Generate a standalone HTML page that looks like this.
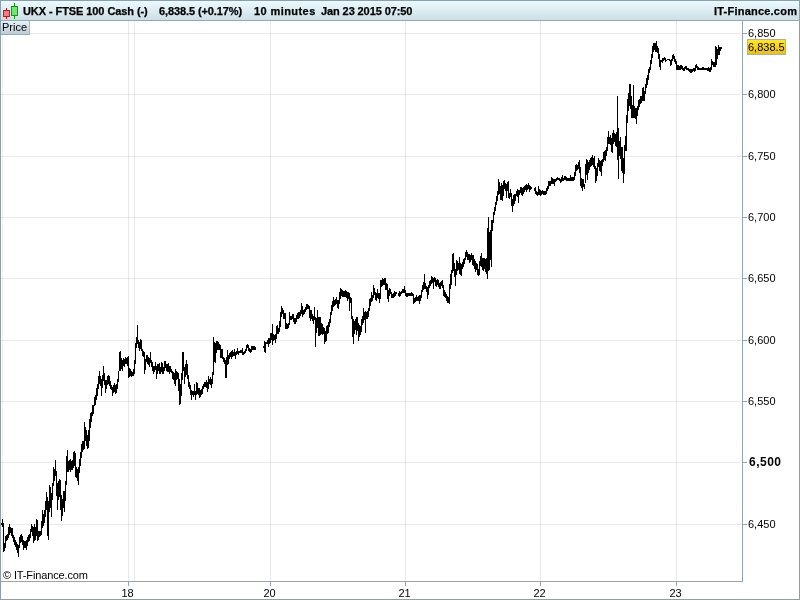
<!DOCTYPE html>
<html><head><meta charset="utf-8"><title>UKX - FTSE 100 Cash</title>
<style>
html,body{margin:0;padding:0;background:#fff;}
body{width:800px;height:600px;overflow:hidden;position:relative;font-family:"Liberation Sans",Arial,sans-serif;}
#frame{position:absolute;left:0;top:0;width:798px;height:598px;border:1px solid #8d9fa8;}
#hdr{position:absolute;left:1px;top:1px;width:798px;height:19px;background:linear-gradient(#ecfbff,#cddee6);border-bottom:1px solid #97a8b0;}
.ht{position:absolute;top:4px;font-weight:bold;-webkit-text-stroke:0.25px #000;font-size:11px;line-height:13px;color:#000;white-space:pre;}
#price{position:absolute;left:1px;top:21px;width:28px;height:13px;background:linear-gradient(#e3f3f8,#bccbd3);border-right:1px solid #a9b7be;border-bottom:1px solid #9aaab2;}
#price span{position:absolute;left:1px;top:0px;font-size:11px;line-height:13px;}
svg{position:absolute;left:0;top:0;}
text{font-family:"Liberation Sans",Arial,sans-serif;font-size:11px;fill:#000;}
text.yb{font-weight:bold;font-size:12px;}
text.x{text-anchor:middle;}
</style></head><body>
<svg width="800" height="600" viewBox="0 0 800 600" shape-rendering="crispEdges">
<rect x="1" y="33" width="741" height="1" fill="#000" fill-opacity="0.085"/>
<rect x="1" y="94" width="741" height="1" fill="#000" fill-opacity="0.085"/>
<rect x="1" y="156" width="741" height="1" fill="#000" fill-opacity="0.085"/>
<rect x="1" y="217" width="741" height="1" fill="#000" fill-opacity="0.085"/>
<rect x="1" y="278" width="741" height="1" fill="#000" fill-opacity="0.085"/>
<rect x="1" y="340" width="741" height="1" fill="#000" fill-opacity="0.085"/>
<rect x="1" y="401" width="741" height="1" fill="#000" fill-opacity="0.085"/>
<rect x="1" y="462" width="741" height="1" fill="#000" fill-opacity="0.085"/>
<rect x="1" y="524" width="741" height="1" fill="#000" fill-opacity="0.085"/>
<rect x="2" y="21" width="1" height="560" fill="#000" fill-opacity="0.06"/>
<rect x="128" y="21" width="1" height="560" fill="#000" fill-opacity="0.085"/>
<rect x="134" y="21" width="1" height="560" fill="#000" fill-opacity="0.085"/>
<rect x="270" y="21" width="1" height="560" fill="#000" fill-opacity="0.085"/>
<rect x="405" y="21" width="1" height="560" fill="#000" fill-opacity="0.085"/>
<rect x="540" y="21" width="1" height="560" fill="#000" fill-opacity="0.085"/>
<rect x="676" y="21" width="1" height="560" fill="#000" fill-opacity="0.085"/>
<path d="M1 523h1v2h-1zM2 519h1v8h-1zM3 523h1v29h-1zM4 543h1v8h-1zM5 536h1v12h-1zM6 535h1v6h-1zM7 534h1v6h-1zM8 527h1v11h-1zM9 524h1v11h-1zM10 527h1v6h-1zM11 528h1v8h-1zM12 528h1v10h-1zM13 535h1v7h-1zM14 537h1v8h-1zM15 540h1v7h-1zM16 542h1v8h-1zM17 544h1v9h-1zM18 545h1v12h-1zM19 537h1v11h-1zM20 535h1v8h-1zM21 534h1v8h-1zM22 536h1v9h-1zM23 540h1v10h-1zM24 541h1v7h-1zM25 541h1v7h-1zM26 540h1v10h-1zM27 537h1v9h-1zM28 535h1v7h-1zM29 534h1v7h-1zM30 529h1v9h-1zM31 524h1v8h-1zM32 526h1v10h-1zM33 527h1v16h-1zM34 524h1v17h-1zM35 527h1v13h-1zM36 519h1v17h-1zM37 520h1v21h-1zM38 531h1v9h-1zM39 531h1v6h-1zM40 531h1v5h-1zM41 521h1v14h-1zM42 510h1v18h-1zM43 514h1v12h-1zM44 510h1v13h-1zM45 501h1v16h-1zM46 492h1v18h-1zM47 497h1v39h-1zM48 501h1v39h-1zM49 485h1v27h-1zM50 487h1v21h-1zM51 493h1v24h-1zM52 483h1v17h-1zM53 467h1v19h-1zM54 469h1v12h-1zM55 460h1v16h-1zM56 471h1v25h-1zM57 483h1v27h-1zM58 481h1v19h-1zM59 479h1v18h-1zM60 480h1v30h-1zM61 495h1v26h-1zM62 499h1v17h-1zM63 491h1v17h-1zM64 491h1v21h-1zM65 481h1v20h-1zM66 456h1v29h-1zM67 450h1v22h-1zM68 461h1v11h-1zM69 460h1v10h-1zM70 459h1v13h-1zM71 461h1v9h-1zM72 460h1v10h-1zM73 452h1v16h-1zM74 451h1v15h-1zM75 453h1v24h-1zM76 467h1v11h-1zM77 469h1v12h-1zM78 467h1v18h-1zM79 459h1v14h-1zM80 452h1v14h-1zM81 444h1v14h-1zM82 441h1v11h-1zM83 441h1v9h-1zM84 422h1v27h-1zM85 427h1v14h-1zM86 430h1v16h-1zM87 435h1v14h-1zM88 430h1v18h-1zM89 419h1v22h-1zM90 413h1v15h-1zM91 412h1v10h-1zM92 405h1v11h-1zM93 405h1v9h-1zM94 397h1v9h-1zM95 395h1v10h-1zM96 388h1v12h-1zM97 384h1v12h-1zM98 376h1v13h-1zM99 371h1v13h-1zM100 376h1v10h-1zM101 379h1v17h-1zM102 375h1v13h-1zM103 366h1v15h-1zM104 373h1v12h-1zM105 380h1v13h-1zM106 380h1v9h-1zM107 376h1v9h-1zM108 375h1v9h-1zM109 376h1v10h-1zM110 381h1v8h-1zM111 385h1v5h-1zM112 387h1v9h-1zM113 385h1v8h-1zM114 383h1v9h-1zM115 385h1v9h-1zM116 384h1v9h-1zM117 379h1v10h-1zM118 371h1v11h-1zM119 352h1v19h-1zM120 351h1v20h-1zM121 358h1v11h-1zM122 360h1v11h-1zM123 358h1v8h-1zM124 359h1v8h-1zM125 357h1v7h-1zM126 358h1v6h-1zM127 357h1v9h-1zM128 356h1v22h-1zM129 368h1v9h-1zM130 369h1v7h-1zM131 371h1v6h-1zM132 372h1v4h-1zM133 369h1v7h-1zM134 360h1v14h-1zM135 343h1v21h-1zM136 337h1v11h-1zM137 325h1v19h-1zM138 340h1v8h-1zM139 342h1v9h-1zM140 339h1v10h-1zM141 340h1v11h-1zM142 349h1v7h-1zM143 351h1v6h-1zM144 352h1v22h-1zM145 359h1v11h-1zM146 355h1v7h-1zM147 355h1v9h-1zM148 357h1v8h-1zM149 358h1v9h-1zM150 352h1v11h-1zM151 360h1v7h-1zM152 362h1v9h-1zM153 366h1v8h-1zM154 366h1v6h-1zM155 362h1v8h-1zM156 366h1v13h-1zM157 364h1v10h-1zM158 364h1v7h-1zM159 363h1v11h-1zM160 367h1v7h-1zM161 362h1v10h-1zM162 363h1v11h-1zM163 367h1v7h-1zM164 361h1v10h-1zM165 361h1v7h-1zM166 364h1v7h-1zM167 364h1v8h-1zM168 363h1v9h-1zM169 366h1v8h-1zM170 366h1v6h-1zM171 369h1v4h-1zM172 371h1v8h-1zM173 372h1v8h-1zM174 373h1v11h-1zM175 369h1v17h-1zM176 371h1v9h-1zM177 372h1v7h-1zM178 373h1v18h-1zM179 379h1v26h-1zM180 384h1v20h-1zM181 373h1v23h-1zM182 352h1v28h-1zM183 352h1v19h-1zM184 367h1v17h-1zM185 364h1v13h-1zM186 360h1v15h-1zM187 364h1v15h-1zM188 375h1v12h-1zM189 382h1v7h-1zM190 385h1v10h-1zM191 390h1v10h-1zM192 391h1v4h-1zM193 391h1v6h-1zM194 384h1v11h-1zM195 391h1v9h-1zM196 382h1v13h-1zM197 383h1v11h-1zM198 388h1v7h-1zM199 388h1v10h-1zM200 390h1v7h-1zM201 389h1v6h-1zM202 386h1v8h-1zM203 384h1v5h-1zM204 382h1v5h-1zM205 382h1v5h-1zM206 380h1v8h-1zM207 382h1v10h-1zM208 376h1v13h-1zM209 379h1v5h-1zM210 377h1v8h-1zM211 379h1v9h-1zM212 372h1v12h-1zM213 337h1v38h-1zM214 342h1v20h-1zM215 343h1v20h-1zM216 341h1v12h-1zM217 341h1v9h-1zM218 342h1v8h-1zM219 344h1v6h-1zM220 345h1v13h-1zM221 349h1v9h-1zM222 349h1v10h-1zM223 357h1v5h-1zM224 358h1v6h-1zM225 360h1v18h-1zM226 357h1v21h-1zM227 350h1v15h-1zM228 355h1v9h-1zM229 353h1v6h-1zM230 352h1v5h-1zM231 351h1v8h-1zM232 350h1v7h-1zM233 352h1v4h-1zM234 349h1v7h-1zM235 352h1v7h-1zM236 351h1v4h-1zM237 348h1v6h-1zM238 351h1v4h-1zM239 351h1v2h-1zM240 350h1v3h-1zM241 350h1v3h-1zM242 348h1v7h-1zM243 352h1v3h-1zM244 351h1v3h-1zM245 349h1v4h-1zM246 345h1v6h-1zM247 344h1v4h-1zM248 345h1v6h-1zM249 348h1v4h-1zM250 349h1v4h-1zM251 346h1v6h-1zM252 346h1v4h-1zM253 346h1v4h-1zM254 346h1v4h-1zM255 347h1v3h-1zM263 346h1v2h-1zM264 341h1v11h-1zM265 342h1v11h-1zM266 342h1v2h-1zM267 340h1v4h-1zM268 338h1v9h-1zM269 338h1v6h-1zM270 333h1v10h-1zM271 333h1v7h-1zM272 324h1v21h-1zM273 334h1v7h-1zM274 335h1v5h-1zM275 334h1v9h-1zM276 326h1v13h-1zM277 325h1v9h-1zM278 328h1v6h-1zM279 321h1v11h-1zM280 312h1v15h-1zM281 306h1v11h-1zM282 308h1v6h-1zM283 310h1v9h-1zM284 313h1v6h-1zM285 313h1v16h-1zM286 323h1v6h-1zM287 324h1v5h-1zM288 323h1v5h-1zM289 312h1v13h-1zM290 316h1v4h-1zM291 316h1v4h-1zM292 314h1v5h-1zM293 314h1v8h-1zM294 318h1v6h-1zM295 318h1v6h-1zM296 315h1v7h-1zM297 313h1v6h-1zM298 312h1v7h-1zM299 312h1v6h-1zM300 310h1v6h-1zM301 303h1v11h-1zM302 306h1v11h-1zM303 310h1v5h-1zM304 309h1v5h-1zM305 307h1v5h-1zM306 304h1v6h-1zM307 304h1v5h-1zM308 305h1v4h-1zM309 306h1v12h-1zM310 310h1v11h-1zM311 310h1v9h-1zM312 314h1v7h-1zM313 316h1v8h-1zM314 307h1v13h-1zM315 317h1v30h-1zM316 318h1v15h-1zM317 310h1v18h-1zM318 317h1v19h-1zM319 317h1v19h-1zM320 317h1v18h-1zM321 323h1v11h-1zM322 324h1v11h-1zM323 327h1v7h-1zM324 328h1v16h-1zM325 331h1v11h-1zM326 326h1v15h-1zM327 325h1v9h-1zM328 322h1v11h-1zM329 319h1v8h-1zM330 312h1v11h-1zM331 305h1v10h-1zM332 301h1v10h-1zM333 297h1v10h-1zM334 300h1v6h-1zM335 299h1v6h-1zM336 297h1v7h-1zM337 300h1v8h-1zM338 300h1v9h-1zM339 292h1v12h-1zM340 288h1v11h-1zM341 289h1v7h-1zM342 290h1v7h-1zM343 291h1v6h-1zM344 291h1v6h-1zM345 290h1v7h-1zM346 291h1v7h-1zM347 292h1v9h-1zM348 292h1v7h-1zM349 293h1v18h-1zM350 297h1v6h-1zM351 298h1v21h-1zM352 316h1v21h-1zM353 319h1v25h-1zM354 321h1v13h-1zM355 319h1v11h-1zM356 317h1v18h-1zM357 317h1v14h-1zM358 323h1v18h-1zM359 325h1v12h-1zM360 326h1v9h-1zM361 319h1v13h-1zM362 316h1v9h-1zM363 308h1v15h-1zM364 312h1v8h-1zM365 311h1v22h-1zM366 312h1v7h-1zM367 311h1v8h-1zM368 308h1v9h-1zM369 299h1v12h-1zM370 298h1v8h-1zM371 292h1v10h-1zM372 295h1v6h-1zM373 285h1v13h-1zM374 288h1v7h-1zM375 292h1v8h-1zM376 293h1v8h-1zM377 289h1v9h-1zM378 293h1v6h-1zM379 293h1v10h-1zM380 280h1v19h-1zM381 280h1v7h-1zM382 278h1v8h-1zM383 279h1v6h-1zM384 278h1v7h-1zM385 278h1v12h-1zM386 283h1v7h-1zM387 284h1v15h-1zM388 290h1v12h-1zM389 288h1v8h-1zM390 289h1v5h-1zM391 292h1v6h-1zM392 294h1v4h-1zM393 293h1v5h-1zM394 291h1v6h-1zM395 292h1v4h-1zM396 292h1v2h-1zM398 293h1v3h-1zM399 291h1v6h-1zM400 292h1v4h-1zM401 291h1v3h-1zM402 289h1v4h-1zM403 289h1v4h-1zM404 286h1v7h-1zM405 290h1v6h-1zM406 293h1v4h-1zM407 293h1v4h-1zM408 293h1v3h-1zM409 293h1v3h-1zM410 293h1v3h-1zM411 292h1v4h-1zM412 293h1v3h-1zM413 294h1v10h-1zM414 298h1v5h-1zM415 297h1v5h-1zM416 295h1v6h-1zM417 297h1v4h-1zM418 296h1v5h-1zM419 295h1v9h-1zM420 295h1v6h-1zM421 290h1v8h-1zM422 285h1v7h-1zM423 282h1v8h-1zM424 274h1v15h-1zM425 283h1v6h-1zM426 286h1v6h-1zM427 287h1v12h-1zM428 285h1v10h-1zM429 281h1v7h-1zM430 280h1v6h-1zM431 276h1v8h-1zM432 277h1v6h-1zM433 278h1v11h-1zM434 277h1v5h-1zM435 278h1v8h-1zM436 280h1v7h-1zM437 279h1v6h-1zM438 280h1v7h-1zM439 283h1v6h-1zM440 282h1v7h-1zM441 281h1v5h-1zM442 280h1v8h-1zM443 285h1v11h-1zM444 290h1v7h-1zM445 292h1v6h-1zM446 294h1v7h-1zM447 296h1v7h-1zM448 297h1v6h-1zM449 284h1v20h-1zM450 274h1v15h-1zM451 270h1v15h-1zM452 254h1v19h-1zM453 253h1v18h-1zM454 263h1v14h-1zM455 269h1v17h-1zM456 260h1v15h-1zM457 261h1v10h-1zM458 263h1v7h-1zM459 257h1v17h-1zM460 263h1v12h-1zM461 264h1v12h-1zM462 262h1v7h-1zM463 259h1v8h-1zM464 258h1v6h-1zM465 252h1v8h-1zM466 250h1v7h-1zM467 252h1v8h-1zM468 254h1v6h-1zM469 254h1v9h-1zM470 255h1v7h-1zM471 253h1v7h-1zM472 255h1v10h-1zM473 255h1v11h-1zM474 259h1v10h-1zM475 261h1v11h-1zM476 263h1v7h-1zM477 264h1v11h-1zM478 269h1v7h-1zM479 261h1v14h-1zM480 256h1v10h-1zM481 253h1v14h-1zM482 258h1v12h-1zM483 258h1v13h-1zM484 258h1v11h-1zM485 259h1v13h-1zM486 258h1v16h-1zM487 228h1v51h-1zM488 217h1v54h-1zM489 232h1v38h-1zM490 230h1v30h-1zM491 220h1v47h-1zM492 220h1v11h-1zM493 212h1v11h-1zM494 207h1v8h-1zM495 202h1v9h-1zM496 196h1v9h-1zM497 191h1v10h-1zM498 179h1v16h-1zM499 182h1v12h-1zM500 186h1v14h-1zM501 183h1v17h-1zM502 185h1v16h-1zM503 181h1v15h-1zM504 180h1v9h-1zM505 183h1v8h-1zM506 184h1v14h-1zM507 182h1v9h-1zM508 181h1v17h-1zM509 193h1v6h-1zM510 189h1v8h-1zM511 193h1v13h-1zM512 199h1v13h-1zM513 195h1v11h-1zM514 194h1v10h-1zM515 194h1v7h-1zM516 191h1v5h-1zM517 189h1v8h-1zM518 190h1v13h-1zM519 190h1v5h-1zM520 187h1v6h-1zM521 187h1v8h-1zM522 188h1v8h-1zM523 187h1v7h-1zM524 186h1v6h-1zM525 185h1v5h-1zM526 184h1v8h-1zM527 185h1v5h-1zM528 183h1v6h-1zM529 185h1v7h-1zM530 186h1v4h-1zM531 187h1v2h-1zM534 188h1v3h-1zM535 187h1v7h-1zM536 191h1v4h-1zM537 192h1v4h-1zM538 186h1v9h-1zM539 189h1v6h-1zM540 190h1v6h-1zM541 191h1v4h-1zM542 190h1v4h-1zM543 191h1v4h-1zM544 191h1v4h-1zM545 191h1v4h-1zM546 188h1v6h-1zM547 186h1v5h-1zM548 181h1v8h-1zM549 181h1v5h-1zM550 181h1v5h-1zM551 177h1v7h-1zM552 178h1v6h-1zM553 179h1v5h-1zM554 179h1v7h-1zM555 179h1v3h-1zM556 178h1v3h-1zM557 177h1v3h-1zM558 178h1v2h-1zM559 178h1v3h-1zM560 179h1v4h-1zM561 177h1v5h-1zM562 175h1v6h-1zM563 178h1v3h-1zM564 176h1v4h-1zM565 176h1v4h-1zM566 177h1v4h-1zM567 178h1v3h-1zM568 178h1v3h-1zM569 178h1v3h-1zM570 175h1v6h-1zM571 177h1v4h-1zM572 177h1v4h-1zM573 177h1v4h-1zM574 172h1v8h-1zM575 165h1v11h-1zM576 164h1v7h-1zM577 165h1v5h-1zM578 162h1v7h-1zM579 160h1v13h-1zM580 167h1v19h-1zM581 178h1v10h-1zM582 179h1v12h-1zM583 179h1v8h-1zM584 184h1v5h-1zM585 164h1v19h-1zM586 159h1v16h-1zM587 160h1v20h-1zM588 162h1v11h-1zM589 160h1v10h-1zM590 158h1v9h-1zM591 157h1v9h-1zM592 155h1v10h-1zM593 158h1v9h-1zM594 156h1v13h-1zM595 166h1v17h-1zM596 168h1v13h-1zM597 163h1v13h-1zM598 158h1v9h-1zM599 160h1v11h-1zM600 161h1v11h-1zM601 160h1v16h-1zM602 159h1v7h-1zM603 152h1v10h-1zM604 151h1v9h-1zM605 150h1v11h-1zM606 147h1v9h-1zM607 137h1v14h-1zM608 131h1v13h-1zM609 137h1v7h-1zM610 135h1v10h-1zM611 138h1v14h-1zM612 133h1v20h-1zM613 130h1v14h-1zM614 133h1v9h-1zM615 134h1v12h-1zM616 132h1v15h-1zM617 96h1v64h-1zM618 128h1v51h-1zM619 141h1v15h-1zM620 137h1v22h-1zM621 147h1v24h-1zM622 147h1v26h-1zM623 158h1v25h-1zM624 145h1v29h-1zM625 136h1v15h-1zM626 115h1v36h-1zM627 99h1v24h-1zM628 93h1v18h-1zM629 84h1v22h-1zM630 84h1v25h-1zM631 96h1v22h-1zM632 105h1v13h-1zM633 85h1v33h-1zM634 106h1v12h-1zM635 108h1v11h-1zM636 108h1v16h-1zM637 106h1v10h-1zM638 100h1v10h-1zM639 99h1v8h-1zM640 96h1v8h-1zM641 96h1v7h-1zM642 88h1v13h-1zM643 87h1v14h-1zM644 91h1v10h-1zM645 84h1v10h-1zM646 78h1v10h-1zM647 75h1v10h-1zM648 69h1v11h-1zM649 67h1v6h-1zM650 60h1v10h-1zM651 54h1v10h-1zM652 46h1v12h-1zM653 43h1v9h-1zM654 43h1v7h-1zM655 43h1v9h-1zM656 41h1v11h-1zM657 46h1v7h-1zM658 48h1v11h-1zM659 54h1v13h-1zM660 60h1v10h-1zM661 60h1v2h-1zM662 58h1v5h-1zM663 58h1v3h-1zM664 57h1v3h-1zM665 58h1v4h-1zM666 60h1v1h-1zM667 59h1v1h-1zM668 59h1v1h-1zM669 59h1v2h-1zM670 60h1v6h-1zM671 59h1v6h-1zM672 55h1v6h-1zM673 54h1v5h-1zM674 56h1v6h-1zM675 59h1v5h-1zM676 61h1v9h-1zM677 65h1v5h-1zM678 65h1v5h-1zM679 66h1v4h-1zM680 65h1v5h-1zM681 65h1v4h-1zM682 66h1v4h-1zM683 68h1v3h-1zM684 67h1v4h-1zM685 66h1v3h-1zM686 66h1v4h-1zM687 68h1v2h-1zM688 68h1v3h-1zM689 69h1v3h-1zM690 69h1v4h-1zM691 69h1v4h-1zM692 69h1v3h-1zM693 68h1v3h-1zM694 68h1v4h-1zM695 65h1v6h-1zM696 64h1v4h-1zM697 66h1v4h-1zM698 67h1v3h-1zM699 68h1v2h-1zM700 68h1v2h-1zM701 68h1v2h-1zM702 67h1v3h-1zM703 67h1v3h-1zM704 68h1v2h-1zM705 68h1v2h-1zM706 68h1v2h-1zM707 68h1v3h-1zM708 67h1v4h-1zM709 68h1v4h-1zM710 67h1v5h-1zM711 59h1v11h-1zM712 61h1v4h-1zM713 62h1v5h-1zM714 62h1v5h-1zM715 46h1v21h-1zM716 47h1v18h-1zM717 49h1v10h-1zM718 45h1v10h-1zM719 47h1v8h-1zM720 47h1v4h-1zM721 47h1v2h-1z" fill="#000"/>
<rect x="742" y="21" width="1" height="561" fill="#93a5ae"/>
<rect x="1" y="581" width="742" height="1" fill="#93a5ae"/>
<rect x="743" y="33" width="4" height="1" fill="#93a5ae"/>
<rect x="743" y="94" width="4" height="1" fill="#93a5ae"/>
<rect x="743" y="156" width="4" height="1" fill="#93a5ae"/>
<rect x="743" y="217" width="4" height="1" fill="#93a5ae"/>
<rect x="743" y="278" width="4" height="1" fill="#93a5ae"/>
<rect x="743" y="340" width="4" height="1" fill="#93a5ae"/>
<rect x="743" y="401" width="4" height="1" fill="#93a5ae"/>
<rect x="743" y="462" width="4" height="1" fill="#93a5ae"/>
<rect x="743" y="524" width="4" height="1" fill="#93a5ae"/>
<rect x="128" y="582" width="1" height="4" fill="#93a5ae"/>
<rect x="270" y="582" width="1" height="4" fill="#93a5ae"/>
<rect x="405" y="582" width="1" height="4" fill="#93a5ae"/>
<rect x="540" y="582" width="1" height="4" fill="#93a5ae"/>
<rect x="676" y="582" width="1" height="4" fill="#93a5ae"/>
<defs><linearGradient id="yg" x1="0" y1="0" x2="0" y2="1"><stop offset="0" stop-color="#ffe92a"/><stop offset="1" stop-color="#f2bd00"/></linearGradient></defs>
<rect x="747.5" y="39.5" width="38" height="15" fill="url(#yg)" stroke="#a3b1bd" stroke-width="1" shape-rendering="auto"/>
<text x="748" y="37" class="y">6,850</text>
<text x="748" y="98" class="y">6,800</text>
<text x="748" y="160" class="y">6,750</text>
<text x="748" y="221" class="y">6,700</text>
<text x="748" y="282" class="y">6,650</text>
<text x="748" y="344" class="y">6,600</text>
<text x="748" y="405" class="y">6,550</text>
<text x="749" y="466" class="yb" style="letter-spacing:0.5px">6,500</text>
<text x="748" y="528" class="y">6,450</text>
<text x="127.5" y="597" class="x">18</text>
<text x="269.5" y="597" class="x">20</text>
<text x="404.5" y="597" class="x">21</text>
<text x="539.5" y="597" class="x">22</text>
<text x="675.5" y="597" class="x">23</text>
<text x="748" y="51" class="y">6,838.5</text>
<text x="3" y="579" style="letter-spacing:-0.13px">© IT-Finance.com</text>
</svg>
<div id="frame"></div>
<div id="hdr">
<svg width="20" height="19" style="position:absolute;left:-1px;top:-1px" shape-rendering="crispEdges">
<rect x="6" y="8" width="1" height="11" fill="#b42020"/>
<rect x="3" y="10" width="7" height="7" fill="#b42020"/>
<rect x="4" y="11" width="5" height="5" fill="#f28080"/>
<rect x="14" y="3" width="1" height="16" fill="#109a10"/>
<rect x="11" y="6" width="7" height="10" fill="#109a10"/>
<rect x="12" y="7" width="5" height="8" fill="#70e870"/>
</svg>
<span class="ht" style="left:22px;letter-spacing:-0.08px">UKX - FTSE 100 Cash (-)</span>
<span class="ht" style="left:158px;letter-spacing:-0.1px">6,838.5 (+0.17%)</span>
<span class="ht" style="left:253px;letter-spacing:0.42px">10 minutes</span>
<span class="ht" style="left:320px;letter-spacing:-0.1px">Jan 23 2015 07:50</span>
<span class="ht" style="left:713px;letter-spacing:0.22px">IT-Finance.com</span>
</div>
<div id="price"><span>Price</span></div>
</body></html>
